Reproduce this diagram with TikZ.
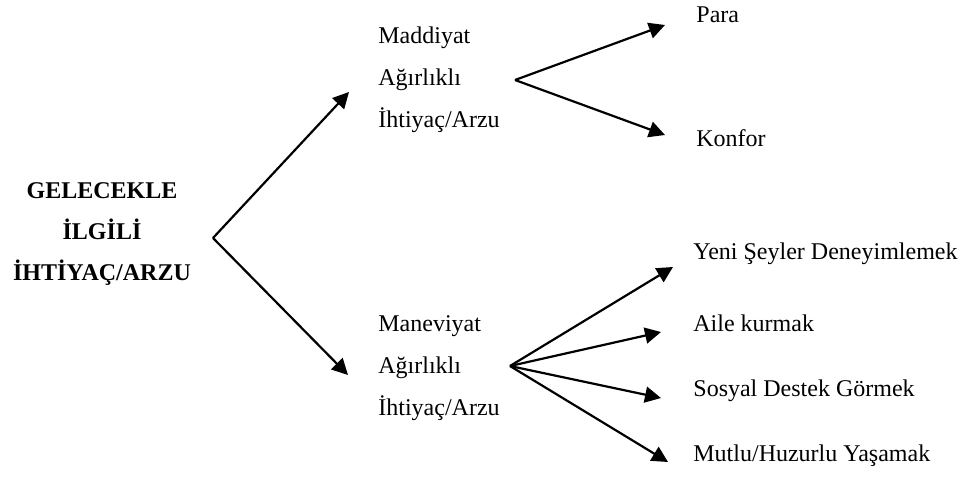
\documentclass[tikz,border=0pt]{standalone}
\usepackage{fontspec}
\setmainfont{Liberation Serif}
\usetikzlibrary{arrows.meta}
\begin{document}
\begin{tikzpicture}[x=0.5pt,y=-0.5pt,
        every node/.style={inner sep=0pt,font=\fontsize{12pt}{21pt}\selectfont},
        grp/.style={anchor=west,align=left},
        leaf/.style={anchor=west},
        arr/.style={-{Triangle[length=8pt,width=8pt]},line width=1.1pt}]
        \useasboundingbox (0,0) rectangle (962,477);
        % left block
        \node[align=center,font=\fontsize{12pt}{20.5pt}\selectfont\bfseries] (root) at (102,234) {GELECEKLE\\İLGİLİ\\İHTİYAÇ/ARZU};
        \coordinate (f0) at (213,238);
        % middle blocks
        \node[grp] (mad) at (378,80) {Maddiyat\\Ağırlıklı\\İhtiyaç/Arzu};
        \node[grp] (man) at (378,368) {Maneviyat\\Ağırlıklı\\İhtiyaç/Arzu};
        \coordinate (tmad) at (349,92);
        \coordinate (tman) at (348,375);
        \coordinate (f1) at (515,80);
        \coordinate (f2) at (510,366);
        % leaves
        \node[leaf] (para) at (696,15) {Para};
        \node[leaf] (konf) at (696,138) {Konfor};
        \node[leaf] (yeni) at (693,254) {Yeni Şeyler Deneyimlemek};
        \node[leaf] (aile) at (693,323) {Aile kurmak};
        \node[leaf] (sos) at (693,391) {Sosyal Destek Görmek};
        \node[leaf] (mut) at (693,456) {Mutlu/Huzurlu Yaşamak};
        \coordinate (tpara) at (665,25);
        \coordinate (tkonf) at (665,135);
        \coordinate (tyeni) at (673,267);
        \coordinate (taile) at (661,332);
        \coordinate (tsos) at (661,398);
        \coordinate (tmut) at (668,462);
        \draw[arr] (f0) -- (tmad);
        \draw[arr] (f0) -- (tman);
        \draw[arr] (f1) -- (tpara);
        \draw[arr] (f1) -- (tkonf);
        \draw[arr] (f2) -- (tyeni);
        \draw[arr] (f2) -- (taile);
        \draw[arr] (f2) -- (tsos);
        \draw[arr] (f2) -- (tmut);
    \end{tikzpicture}
\end{document}
